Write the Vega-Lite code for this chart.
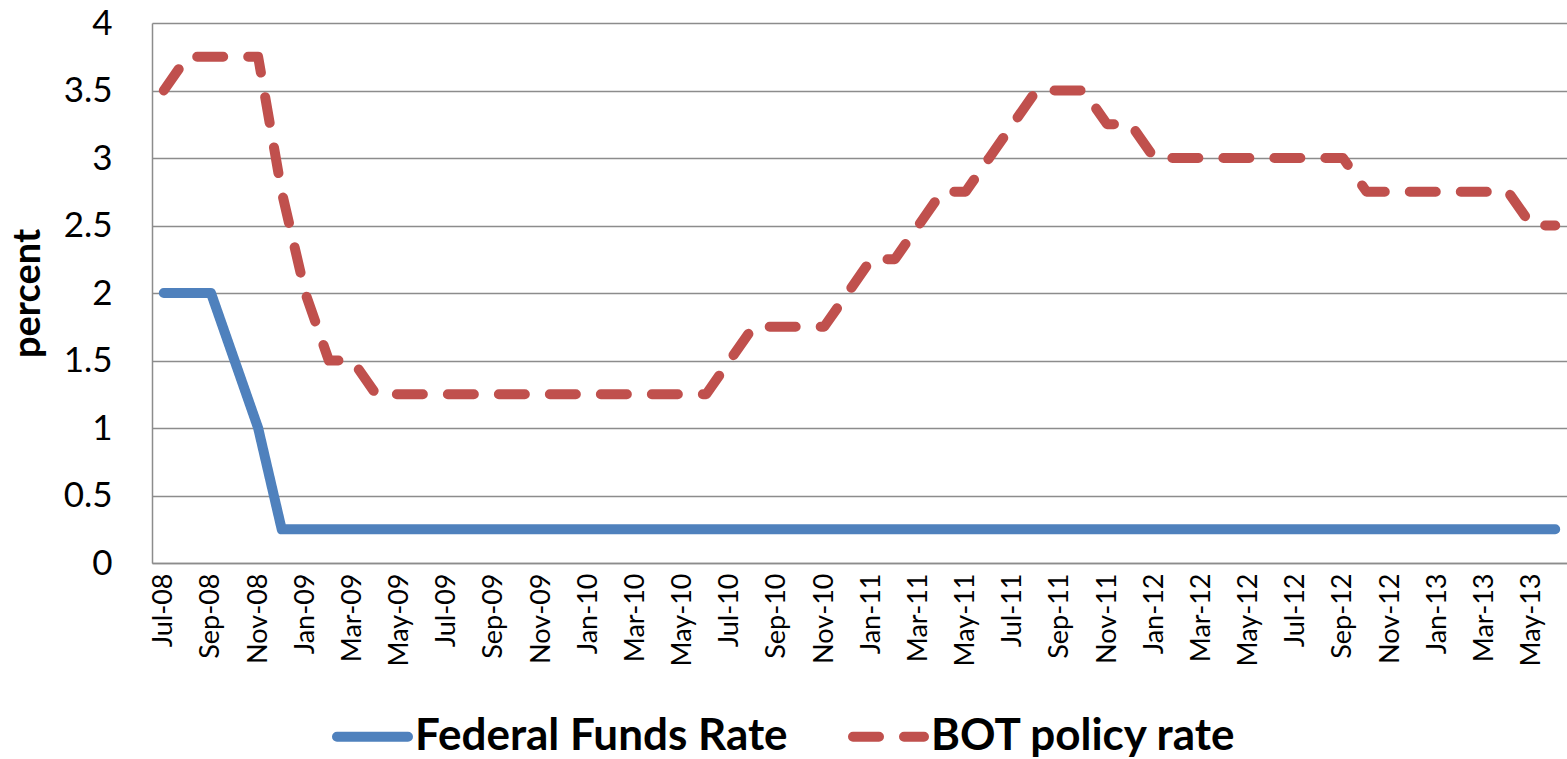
{
  "$schema": "https://vega.github.io/schema/vega-lite/v6.json",
  "width": 1415,
  "height": 540,
  "autosize": {"type": "none"},
  "padding": {"left": 152, "top": 23, "right": 0, "bottom": 196},
  "background": "white",
  "config": {
    "font": "Lato",
    "view": {"stroke": null}
  },
  "data": {
    "values": [
      {"month": "Jul-08", "series": "Federal Funds Rate", "rate": 2},
      {"month": "Aug-08", "series": "Federal Funds Rate", "rate": 2},
      {"month": "Sep-08", "series": "Federal Funds Rate", "rate": 2},
      {"month": "Oct-08", "series": "Federal Funds Rate", "rate": 1.5},
      {"month": "Nov-08", "series": "Federal Funds Rate", "rate": 1},
      {"month": "Dec-08", "series": "Federal Funds Rate", "rate": 0.25},
      {"month": "Jan-09", "series": "Federal Funds Rate", "rate": 0.25},
      {"month": "Feb-09", "series": "Federal Funds Rate", "rate": 0.25},
      {"month": "Mar-09", "series": "Federal Funds Rate", "rate": 0.25},
      {"month": "Apr-09", "series": "Federal Funds Rate", "rate": 0.25},
      {"month": "May-09", "series": "Federal Funds Rate", "rate": 0.25},
      {"month": "Jun-09", "series": "Federal Funds Rate", "rate": 0.25},
      {"month": "Jul-09", "series": "Federal Funds Rate", "rate": 0.25},
      {"month": "Aug-09", "series": "Federal Funds Rate", "rate": 0.25},
      {"month": "Sep-09", "series": "Federal Funds Rate", "rate": 0.25},
      {"month": "Oct-09", "series": "Federal Funds Rate", "rate": 0.25},
      {"month": "Nov-09", "series": "Federal Funds Rate", "rate": 0.25},
      {"month": "Dec-09", "series": "Federal Funds Rate", "rate": 0.25},
      {"month": "Jan-10", "series": "Federal Funds Rate", "rate": 0.25},
      {"month": "Feb-10", "series": "Federal Funds Rate", "rate": 0.25},
      {"month": "Mar-10", "series": "Federal Funds Rate", "rate": 0.25},
      {"month": "Apr-10", "series": "Federal Funds Rate", "rate": 0.25},
      {"month": "May-10", "series": "Federal Funds Rate", "rate": 0.25},
      {"month": "Jun-10", "series": "Federal Funds Rate", "rate": 0.25},
      {"month": "Jul-10", "series": "Federal Funds Rate", "rate": 0.25},
      {"month": "Aug-10", "series": "Federal Funds Rate", "rate": 0.25},
      {"month": "Sep-10", "series": "Federal Funds Rate", "rate": 0.25},
      {"month": "Oct-10", "series": "Federal Funds Rate", "rate": 0.25},
      {"month": "Nov-10", "series": "Federal Funds Rate", "rate": 0.25},
      {"month": "Dec-10", "series": "Federal Funds Rate", "rate": 0.25},
      {"month": "Jan-11", "series": "Federal Funds Rate", "rate": 0.25},
      {"month": "Feb-11", "series": "Federal Funds Rate", "rate": 0.25},
      {"month": "Mar-11", "series": "Federal Funds Rate", "rate": 0.25},
      {"month": "Apr-11", "series": "Federal Funds Rate", "rate": 0.25},
      {"month": "May-11", "series": "Federal Funds Rate", "rate": 0.25},
      {"month": "Jun-11", "series": "Federal Funds Rate", "rate": 0.25},
      {"month": "Jul-11", "series": "Federal Funds Rate", "rate": 0.25},
      {"month": "Aug-11", "series": "Federal Funds Rate", "rate": 0.25},
      {"month": "Sep-11", "series": "Federal Funds Rate", "rate": 0.25},
      {"month": "Oct-11", "series": "Federal Funds Rate", "rate": 0.25},
      {"month": "Nov-11", "series": "Federal Funds Rate", "rate": 0.25},
      {"month": "Dec-11", "series": "Federal Funds Rate", "rate": 0.25},
      {"month": "Jan-12", "series": "Federal Funds Rate", "rate": 0.25},
      {"month": "Feb-12", "series": "Federal Funds Rate", "rate": 0.25},
      {"month": "Mar-12", "series": "Federal Funds Rate", "rate": 0.25},
      {"month": "Apr-12", "series": "Federal Funds Rate", "rate": 0.25},
      {"month": "May-12", "series": "Federal Funds Rate", "rate": 0.25},
      {"month": "Jun-12", "series": "Federal Funds Rate", "rate": 0.25},
      {"month": "Jul-12", "series": "Federal Funds Rate", "rate": 0.25},
      {"month": "Aug-12", "series": "Federal Funds Rate", "rate": 0.25},
      {"month": "Sep-12", "series": "Federal Funds Rate", "rate": 0.25},
      {"month": "Oct-12", "series": "Federal Funds Rate", "rate": 0.25},
      {"month": "Nov-12", "series": "Federal Funds Rate", "rate": 0.25},
      {"month": "Dec-12", "series": "Federal Funds Rate", "rate": 0.25},
      {"month": "Jan-13", "series": "Federal Funds Rate", "rate": 0.25},
      {"month": "Feb-13", "series": "Federal Funds Rate", "rate": 0.25},
      {"month": "Mar-13", "series": "Federal Funds Rate", "rate": 0.25},
      {"month": "Apr-13", "series": "Federal Funds Rate", "rate": 0.25},
      {"month": "May-13", "series": "Federal Funds Rate", "rate": 0.25},
      {"month": "Jun-13", "series": "Federal Funds Rate", "rate": 0.25},
      {"month": "Jul-08", "series": "BOT policy rate", "rate": 3.5},
      {"month": "Aug-08", "series": "BOT policy rate", "rate": 3.75},
      {"month": "Sep-08", "series": "BOT policy rate", "rate": 3.75},
      {"month": "Oct-08", "series": "BOT policy rate", "rate": 3.75},
      {"month": "Nov-08", "series": "BOT policy rate", "rate": 3.75},
      {"month": "Dec-08", "series": "BOT policy rate", "rate": 2.75},
      {"month": "Jan-09", "series": "BOT policy rate", "rate": 2},
      {"month": "Feb-09", "series": "BOT policy rate", "rate": 1.5},
      {"month": "Mar-09", "series": "BOT policy rate", "rate": 1.5},
      {"month": "Apr-09", "series": "BOT policy rate", "rate": 1.25},
      {"month": "May-09", "series": "BOT policy rate", "rate": 1.25},
      {"month": "Jun-09", "series": "BOT policy rate", "rate": 1.25},
      {"month": "Jul-09", "series": "BOT policy rate", "rate": 1.25},
      {"month": "Aug-09", "series": "BOT policy rate", "rate": 1.25},
      {"month": "Sep-09", "series": "BOT policy rate", "rate": 1.25},
      {"month": "Oct-09", "series": "BOT policy rate", "rate": 1.25},
      {"month": "Nov-09", "series": "BOT policy rate", "rate": 1.25},
      {"month": "Dec-09", "series": "BOT policy rate", "rate": 1.25},
      {"month": "Jan-10", "series": "BOT policy rate", "rate": 1.25},
      {"month": "Feb-10", "series": "BOT policy rate", "rate": 1.25},
      {"month": "Mar-10", "series": "BOT policy rate", "rate": 1.25},
      {"month": "Apr-10", "series": "BOT policy rate", "rate": 1.25},
      {"month": "May-10", "series": "BOT policy rate", "rate": 1.25},
      {"month": "Jun-10", "series": "BOT policy rate", "rate": 1.25},
      {"month": "Jul-10", "series": "BOT policy rate", "rate": 1.5},
      {"month": "Aug-10", "series": "BOT policy rate", "rate": 1.75},
      {"month": "Sep-10", "series": "BOT policy rate", "rate": 1.75},
      {"month": "Oct-10", "series": "BOT policy rate", "rate": 1.75},
      {"month": "Nov-10", "series": "BOT policy rate", "rate": 1.75},
      {"month": "Dec-10", "series": "BOT policy rate", "rate": 2},
      {"month": "Jan-11", "series": "BOT policy rate", "rate": 2.25},
      {"month": "Feb-11", "series": "BOT policy rate", "rate": 2.25},
      {"month": "Mar-11", "series": "BOT policy rate", "rate": 2.5},
      {"month": "Apr-11", "series": "BOT policy rate", "rate": 2.75},
      {"month": "May-11", "series": "BOT policy rate", "rate": 2.75},
      {"month": "Jun-11", "series": "BOT policy rate", "rate": 3},
      {"month": "Jul-11", "series": "BOT policy rate", "rate": 3.25},
      {"month": "Aug-11", "series": "BOT policy rate", "rate": 3.5},
      {"month": "Sep-11", "series": "BOT policy rate", "rate": 3.5},
      {"month": "Oct-11", "series": "BOT policy rate", "rate": 3.5},
      {"month": "Nov-11", "series": "BOT policy rate", "rate": 3.25},
      {"month": "Dec-11", "series": "BOT policy rate", "rate": 3.25},
      {"month": "Jan-12", "series": "BOT policy rate", "rate": 3},
      {"month": "Feb-12", "series": "BOT policy rate", "rate": 3},
      {"month": "Mar-12", "series": "BOT policy rate", "rate": 3},
      {"month": "Apr-12", "series": "BOT policy rate", "rate": 3},
      {"month": "May-12", "series": "BOT policy rate", "rate": 3},
      {"month": "Jun-12", "series": "BOT policy rate", "rate": 3},
      {"month": "Jul-12", "series": "BOT policy rate", "rate": 3},
      {"month": "Aug-12", "series": "BOT policy rate", "rate": 3},
      {"month": "Sep-12", "series": "BOT policy rate", "rate": 3},
      {"month": "Oct-12", "series": "BOT policy rate", "rate": 2.75},
      {"month": "Nov-12", "series": "BOT policy rate", "rate": 2.75},
      {"month": "Dec-12", "series": "BOT policy rate", "rate": 2.75},
      {"month": "Jan-13", "series": "BOT policy rate", "rate": 2.75},
      {"month": "Feb-13", "series": "BOT policy rate", "rate": 2.75},
      {"month": "Mar-13", "series": "BOT policy rate", "rate": 2.75},
      {"month": "Apr-13", "series": "BOT policy rate", "rate": 2.75},
      {"month": "May-13", "series": "BOT policy rate", "rate": 2.5},
      {"month": "Jun-13", "series": "BOT policy rate", "rate": 2.5}
    ]
  },
  "mark": {"type": "line", "strokeWidth": 10, "strokeCap": "round", "strokeJoin": "round"},
  "encoding": {
    "x": {
      "field": "month",
      "type": "ordinal",
      "sort": null,
      "scale": {"type": "point", "padding": 0.5},
      "axis": {
        "title": null,
        "values": ["Jul-08","Sep-08","Nov-08","Jan-09","Mar-09","May-09","Jul-09","Sep-09","Nov-09","Jan-10","Mar-10","May-10","Jul-10","Sep-10","Nov-10","Jan-11","Mar-11","May-11","Jul-11","Sep-11","Nov-11","Jan-12","Mar-12","May-12","Jul-12","Sep-12","Nov-12","Jan-13","Mar-13","May-13"],
        "labelAngle": -90,
        "labelAlign": "right",
        "labelBaseline": "middle",
        "labelFontSize": 27,
        "labelColor": "black",
        "labelPadding": 10,
        "ticks": false,
        "tickSize": 0,
        "domainColor": "#8c8c8c",
        "domainWidth": 1.5,
        "grid": false
      }
    },
    "y": {
      "field": "rate",
      "type": "quantitative",
      "scale": {"domain": [0, 4], "nice": false},
      "axis": {
        "title": "percent",
        "titleFontSize": 38,
        "titleFontWeight": "bold",
        "titleColor": "black",
        "titleX": -124,
        "titleY": 270,
        "titleAngle": -90,
        "titleAlign": "center",
        "titleBaseline": "middle",
        "values": [0, 0.5, 1, 1.5, 2, 2.5, 3, 3.5, 4],
        "format": ".1~f",
        "labelFontSize": 35,
        "labelColor": "black",
        "labelPadding": 40,
        "ticks": false,
        "tickSize": 0,
        "domainColor": "#8c8c8c",
        "domainWidth": 1.5,
        "grid": true,
        "gridColor": "#8c8c8c",
        "gridWidth": 1.5
      }
    },
    "color": {
      "field": "series",
      "type": "nominal",
      "scale": {"domain": ["Federal Funds Rate", "BOT policy rate"], "range": ["#4F81BD", "#C0504D"]},
      "legend": {
        "title": null,
        "orient": "none",
        "legendX": 180,
        "legendY": 673,
        "direction": "horizontal",
        "symbolType": "stroke",
        "symbolSize": 5041,
        "symbolStrokeWidth": 10,
        "labelFontSize": 44,
        "labelFontWeight": "bold",
        "labelColor": "black",
        "labelOffset": 2,
        "labelLimit": 600,
        "columnPadding": 45,
        "padding": 0,
        "encode": {"symbols": {"update": {"strokeCap": {"value": "round"}}}}
      }
    },
    "strokeDash": {
      "field": "series",
      "type": "nominal",
      "scale": {"domain": ["Federal Funds Rate", "BOT policy rate"], "range": [[1, 0], [26, 25]]},
      "legend": {
        "title": null,
        "orient": "none",
        "legendX": 180,
        "legendY": 673,
        "direction": "horizontal",
        "symbolType": "stroke",
        "symbolSize": 5041,
        "symbolStrokeWidth": 10,
        "labelFontSize": 44,
        "labelFontWeight": "bold",
        "labelColor": "black",
        "labelOffset": 2,
        "labelLimit": 600,
        "columnPadding": 45,
        "padding": 0,
        "encode": {"symbols": {"update": {"strokeCap": {"value": "round"}}}}
      }
    }
  }
}
